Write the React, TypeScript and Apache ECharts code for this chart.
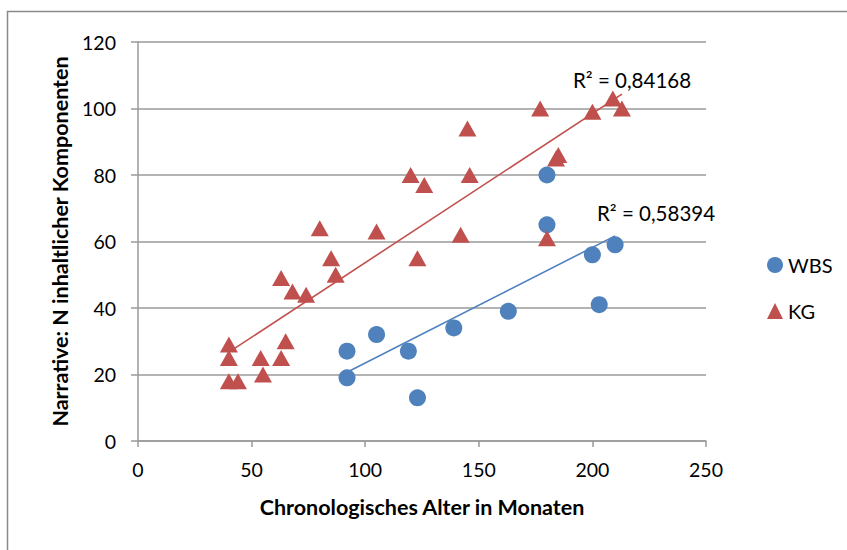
import React, { useEffect, useRef } from "react";
import * as echarts from "echarts";

const wbsX = [92, 92, 105, 119, 123, 139, 163, 180, 180, 200, 203, 210];
const wbsY = [19, 27, 32, 27, 13, 34, 39, 80, 65, 56, 41, 59];

const kgX = [40, 40, 40, 44, 54, 55, 63, 65, 63, 68, 74, 80, 85, 87, 105, 120, 123, 126, 142, 145, 146, 177, 180, 184, 185, 200, 209, 213];
const kgY = [29, 25, 18, 18, 25, 20, 25, 30, 49, 45, 44, 64, 55, 50, 63, 80, 55, 77, 62, 94, 80, 100, 61, 85, 86, 99, 103, 100];

const seriesNames = ["WBS", "KG"];
const r2Labels = ["R² = 0,58394", "R² = 0,84168"];
const xTitle = "Chronologisches Alter in Monaten";
const yTitle = "Narrative: N inhaltlicher Komponenten";

const BLUE = "#4F81BD";
const RED = "#C0504D";
const GRID = "#9a9a9a";
const FONT = "Lato, 'Open Sans', sans-serif";

function fitLine(xs: number[], ys: number[]): number[][] {
  const n = xs.length;
  const mx = xs.reduce((a, b) => a + b, 0) / n;
  const my = ys.reduce((a, b) => a + b, 0) / n;
  let sxy = 0;
  let sxx = 0;
  for (let i = 0; i < n; i++) {
    sxy += (xs[i] - mx) * (ys[i] - my);
    sxx += (xs[i] - mx) * (xs[i] - mx);
  }
  const b = sxy / sxx;
  const a = my - b * mx;
  const x0 = Math.min(...xs);
  const x1 = Math.max(...xs);
  return [
    [x0, a + b * x0],
    [x1, a + b * x1],
  ];
}

export default function App() {
  const ref = useRef<HTMLDivElement>(null);
  useEffect(() => {
    document.body.style.margin = "0";
    if (!ref.current) return;
    const chart = echarts.init(ref.current, undefined, { renderer: "svg" });
    const wbsData = wbsX.map((x, i) => [x, wbsY[i]]);
    const kgData = kgX.map((x, i) => [x, kgY[i]]);
    chart.setOption({
      animation: false,
      backgroundColor: "#ffffff",
      textStyle: { fontFamily: FONT },
      grid: { left: 138, right: 141, top: 42, bottom: 109, containLabel: false },
      legend: {
        data: seriesNames,
        orient: "vertical",
        left: 762,
        top: 250,
        itemWidth: 16,
        itemHeight: 16,
        itemGap: 26,
        itemStyle: { opacity: 1 },
        textStyle: { fontSize: 20, lineHeight: 20, color: "#000", fontFamily: FONT },
      },
      xAxis: {
        type: "value",
        min: 0,
        max: 250,
        interval: 50,
        name: xTitle,
        nameLocation: "middle",
        nameGap: 55,
        nameTextStyle: { fontSize: 21.5, fontWeight: "bold", color: "#000", fontFamily: FONT },
        axisLine: { show: true, lineStyle: { color: GRID, width: 1.5 } },
        axisTick: { show: true, length: 6, lineStyle: { color: GRID, width: 1.5 } },
        axisLabel: { fontSize: 19.5, color: "#000", margin: 18, fontFamily: FONT },
        splitLine: { show: false },
      },
      yAxis: {
        type: "value",
        min: 0,
        max: 120,
        interval: 20,
        name: yTitle,
        nameLocation: "middle",
        nameGap: 64,
        nameRotate: 90,
        nameTextStyle: { fontSize: 21.5, fontWeight: "bold", color: "#000", fontFamily: FONT },
        axisLine: { show: true, lineStyle: { color: GRID, width: 1.5 } },
        axisTick: { show: true, length: 7, lineStyle: { color: GRID, width: 1.5 } },
        axisLabel: { fontSize: 19.5, color: "#000", margin: 22, fontFamily: FONT },
        splitLine: { show: true, lineStyle: { color: GRID, width: 1.5 } },
      },
      series: [
        {
          name: seriesNames[0],
          type: "scatter",
          symbol: "circle",
          symbolSize: 17,
          itemStyle: { color: BLUE, opacity: 1 },
          data: wbsData,
          z: 3,
        },
        {
          name: seriesNames[1],
          type: "scatter",
          symbol: "triangle",
          symbolSize: [18, 16],
          itemStyle: { color: RED, opacity: 1 },
          data: kgData,
          z: 3,
        },
        {
          name: "WBS trend",
          type: "line",
          data: fitLine(wbsX, wbsY),
          showSymbol: false,
          symbol: "none",
          lineStyle: { color: BLUE, width: 1.6 },
          z: 4,
        },
        {
          name: "KG trend",
          type: "line",
          data: fitLine(kgX, kgY),
          showSymbol: false,
          symbol: "none",
          lineStyle: { color: RED, width: 1.6 },
          z: 4,
        },
      ],
      graphic: [
        {
          type: "rect",
          shape: { x: 7.5, y: 11.5, width: 900, height: 600 },
          style: { fill: "none", stroke: "#8a8a8a", lineWidth: 1.5 },
          silent: true,
        },
        {
          type: "text",
          x: 597,
          y: 213,
          style: { text: r2Labels[0], fontSize: 20.5, fill: "#000", fontFamily: FONT, verticalAlign: "middle" },
        },
        {
          type: "text",
          x: 573,
          y: 80,
          style: { text: r2Labels[1], fontSize: 20.5, fill: "#000", fontFamily: FONT, verticalAlign: "middle" },
        },
      ],
    });
    return () => chart.dispose();
  }, []);
  return (
    <div
      ref={ref}
      style={{ position: "absolute", left: 0, top: 0, width: 847, height: 550 }}
    />
  );
}
